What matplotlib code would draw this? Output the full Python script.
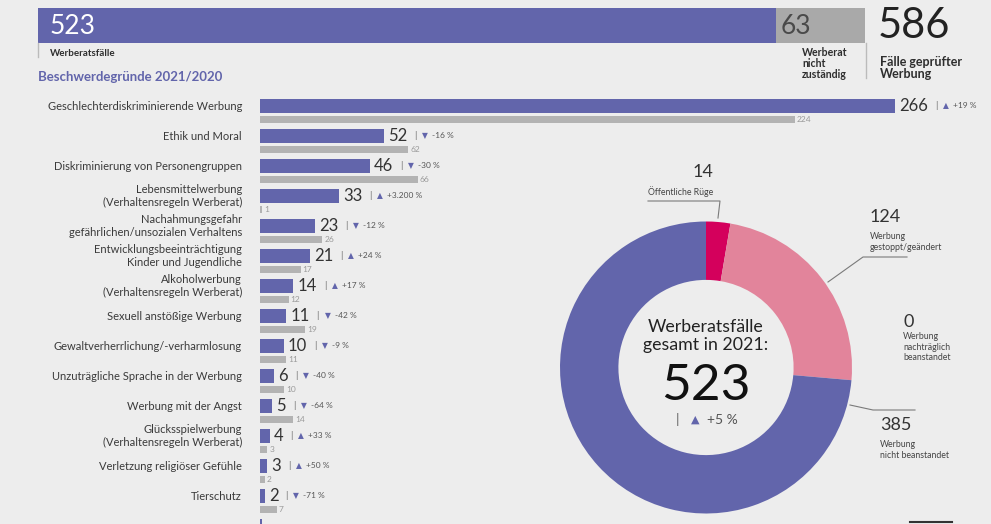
import matplotlib.pyplot as plt
from matplotlib.lines import Line2D

plt.rcParams['font.family'] = ['Lato', 'DejaVu Sans']

W, H = 991, 524

# overview bar
werberat_cases = 523
not_responsible = 63
total_checked = 586

# complaint reasons 2021 / 2020
reasons = [
    'Geschlechterdiskriminierende Werbung',
    'Ethik und Moral',
    'Diskriminierung von Personengruppen',
    'Lebensmittelwerbung\n(Verhaltensregeln Werberat)',
    'Nachahmungsgefahr\ngefährlichen/unsozialen Verhaltens',
    'Entwicklungsbeeinträchtigung\nKinder und Jugendliche',
    'Alkoholwerbung\n(Verhaltensregeln Werberat)',
    'Sexuell anstößige Werbung',
    'Gewaltverherrlichung/-verharmlosung',
    'Unzuträgliche Sprache in der Werbung',
    'Werbung mit der Angst',
    'Glücksspielwerbung\n(Verhaltensregeln Werberat)',
    'Verletzung religiöser Gefühle',
    'Tierschutz',
    '',
]
cases_2021 = [266, 52, 46, 33, 23, 21, 14, 11, 10, 6, 5, 4, 3, 2, 1]
cases_2020 = [224, 62, 66, 1, 26, 17, 12, 19, 11, 10, 14, 3, 2, 7, None]
changes = ['+19 %', '-16 %', '-30 %', '+3.200 %', '-12 %', '+24 %', '+17 %',
           '-42 %', '-9 %', '-40 %', '-64 %', '+33 %', '+50 %', '-71 %', '']

# outcome donut
outcome_values = [14, 124, 0, 385]
outcome_names = ['Öffentliche Rüge', 'Werbung\ngestoppt/geändert',
                 'Werbung\nnachträglich\nbeanstandet', 'Werbung\nnicht beanstandet']
total_change = '+5 %'

PURPLE = '#6265AB'
GRAY = '#B3B3B3'
BG = '#EDEDED'
DARK = '#2E2E2E'


def fx(x):
    return x / W


def fy(y):
    return 1 - y / H


def axes_px(fig, left, top, right, bottom):
    return fig.add_axes([left / W, 1 - bottom / H, (right - left) / W, (bottom - top) / H])


def px_line(fig, xs, ys, color='#7A7A7A', lw=0.8):
    fig.add_artist(Line2D([fx(x) for x in xs], [fy(y) for y in ys],
                          transform=fig.transFigure, color=color, lw=lw))


def change_marker(ax, anchor, text, gaps, size_bar, size_tri, size_txt):
    bar = ax.annotate('|', xy=(1, 0.5), xycoords=anchor, xytext=(gaps[0], 0),
                      textcoords='offset points', va='center', ha='left',
                      fontsize=size_bar, color='#666666')
    tri = '▲' if text.startswith('+') else '▼'
    t = ax.annotate(tri, xy=(1, 0.5), xycoords=bar, xytext=(gaps[1], 0),
                    textcoords='offset points', va='center', ha='left',
                    fontsize=size_tri, color=PURPLE, family='DejaVu Sans')
    ax.annotate(text, xy=(1, 0.5), xycoords=t, xytext=(gaps[2], 0),
                textcoords='offset points', va='center', ha='left',
                fontsize=size_txt, color='#555555')


fig = plt.figure(figsize=(W / 100, H / 100), dpi=100, facecolor=BG)

# ---- overview bar
top = axes_px(fig, 38, 8, 865, 43)
top.barh([0], [werberat_cases], height=1, color=PURPLE)
top.barh([0], [not_responsible], left=werberat_cases, height=1, color='#A9A9A9')
top.set_xlim(0, total_checked)
top.set_ylim(-0.5, 0.5)
top.axis('off')
top.annotate(str(werberat_cases), xy=(0, 0), xytext=(8.5, -1), textcoords='offset points',
             va='center', ha='left', fontsize=19, color='white')
top.annotate(str(not_responsible), xy=(werberat_cases, 0), xytext=(3, -1),
             textcoords='offset points', va='center', ha='left', fontsize=19,
             color='#4A4A4A')
fig.text(fx(878), fy(26), str(total_checked), fontsize=30, color='#222222',
         va='center', ha='left')

fig.text(fx(50), fy(53), 'Werberatsfälle', fontsize=7, fontweight='bold',
         color=DARK, va='center')
fig.text(fx(802), fy(46.5), 'Werberat\nnicht\nzuständig', fontsize=7.6, fontweight='bold',
         color=DARK, va='top', linespacing=1.05)
fig.text(fx(880), fy(67.5), 'Fälle geprüfter\nWerbung', fontsize=9, fontweight='bold',
         color=DARK, va='center', linespacing=1.0)
px_line(fig, [38, 38], [43, 57], color='#BBBBBB', lw=1)
px_line(fig, [866, 866], [43, 78], color='#BBBBBB', lw=1)
fig.text(fx(38), fy(77), 'Beschwerdegründe 2021/2020', fontsize=9.5, fontweight='bold',
         color=PURPLE, va='center')

# ---- complaint reasons
ax = axes_px(fig, 260, 85, 991, 524)
rows = list(range(len(reasons)))
ax.barh(rows, cases_2021, height=14 / 30, color=PURPLE)
prev_rows = [r + 0.45 for r, v in zip(rows, cases_2020) if v is not None]
prev_vals = [v for v in cases_2020 if v is not None]
ax.barh(prev_rows, prev_vals, height=7 / 30, color=GRAY)
ax.set_xlim(0, 731 / 2.387)
ax.set_ylim(-0.7 + 439 / 30, -0.7)
ax.axis('off')

for r, name, v, pv, ch in zip(rows, reasons, cases_2021, cases_2020, changes):
    ax.annotate(name, xy=(0, r), xytext=(-13, 0), textcoords='offset points',
                ha='right', va='center', fontsize=8, color='#3A3A3A', annotation_clip=False)
    val = ax.annotate(str(v), xy=(v, r), xytext=(3, 0), textcoords='offset points',
                      ha='left', va='center', fontsize=12, color='#333333')
    if ch:
        change_marker(ax, val, ch, (5, 4, 3), 6.5, 5.5, 6)
    if pv is not None:
        ax.annotate(str(pv), xy=(pv, r + 0.45), xytext=(1.5, 0), textcoords='offset points',
                    ha='left', va='center', fontsize=6, color='#9A9A9A')

# ---- outcome donut
cx, cy, rad = 706, 367.5, 146
dax = axes_px(fig, cx - rad, cy - rad, cx + rad, cy + rad)
dax.pie(outcome_values, colors=['#D4005C', '#E2849B', '#C9C9C9', PURPLE],
        startangle=90, counterclock=False, radius=1,
        wedgeprops=dict(width=0.4, linewidth=0))
dax.set_xlim(-1, 1)
dax.set_ylim(-1, 1)
dax.axis('off')

dax.text(0, 31.5 / rad, 'Werberatsfälle\ngesamt in 2021:', ha='center', va='center',
         fontsize=12.8, color='#222222', linespacing=1.1)
dax.text(0, -18.5 / rad, str(werberat_cases), ha='center', va='center', fontsize=37,
         color='#111111')
start = dax.text(-30 / rad, -52 / rad, '', ha='left', va='center', fontsize=9)
change_marker(dax, start, total_change, (0, 8, 6), 10, 8, 10)

# outcome labels
label_pos = [(703, 172, 'center'), (870, 217, 'left'), (903, 322, 'left'), (880, 425, 'left')]
name_pos = [(681, 192, 'center'), (870, 242, 'left'), (903, 347, 'left'), (880, 450, 'left')]
for v, name, (x, y, ha), (nx, ny, nha) in zip(outcome_values, outcome_names, label_pos, name_pos):
    fig.text(fx(x), fy(y), str(v), ha=ha, va='center', fontsize=13, color='#333333')
    fig.text(fx(nx), fy(ny), name, ha=nha, va='center', fontsize=6.3, color='#444444',
             linespacing=1.2)

px_line(fig, [648, 720, 718], [201, 201, 218])
px_line(fig, [907, 863, 828], [257, 257, 282])
px_line(fig, [850, 873, 915], [405, 410, 410])
px_line(fig, [910, 952], [522, 522], color='#333333', lw=1.5)

fig.savefig('out.png', dpi=100, facecolor=BG)
